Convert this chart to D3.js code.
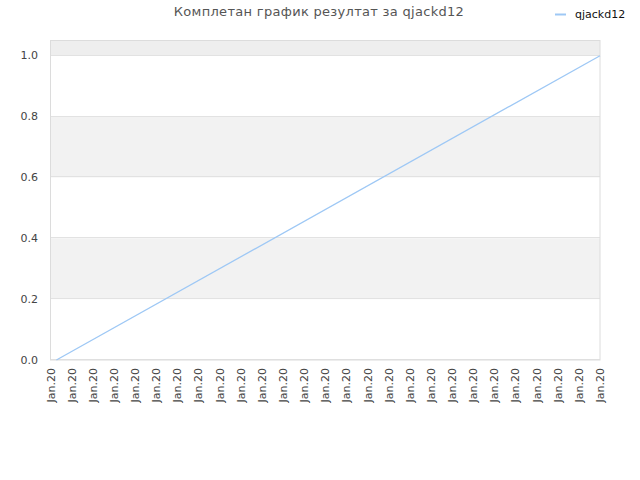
<!DOCTYPE html>
<html>
<head>
<meta charset="utf-8">
<script src="https://cdn.jsdelivr.net/npm/d3@7"></script>
<style>
  body { margin: 0; background: #fff; }
  svg { font-family: "DejaVu Sans", sans-serif; }
</style>
</head>
<body>
<div id="chart"></div>
<script>
// chart data
var title = "Комплетан график резултат за qjackd12";
var seriesName = "qjackd12";
var xLabels = ["Jan.20","Jan.20","Jan.20","Jan.20","Jan.20","Jan.20","Jan.20","Jan.20","Jan.20",
  "Jan.20","Jan.20","Jan.20","Jan.20","Jan.20","Jan.20","Jan.20","Jan.20","Jan.20",
  "Jan.20","Jan.20","Jan.20","Jan.20","Jan.20","Jan.20","Jan.20","Jan.20","Jan.20"];
var pointPos = [0.28, 26];   // position along the label axis
var pointVal = [0, 1];
var yTicks = [0, 0.2, 0.4, 0.6, 0.8, 1.0];

var width = 640, height = 480,
    margin = {top: 40.5, right: 40, bottom: 120, left: 50.5};

var svg = d3.select("#chart").append("svg")
    .attr("width", width)
    .attr("height", height);

var x = d3.scaleLinear().domain([0, xLabels.length - 1]).range([margin.left, width - margin.right]);
var y = d3.scaleLinear().domain([0, 1.05]).range([height - margin.bottom, margin.top]);

// alternating bands
var bandEdges = yTicks.concat([1.05]);
for (var i = 0; i < bandEdges.length - 1; i++){
	if (i % 2 == 0) continue;
	svg.append("rect")
		.attr("x", margin.left)
		.attr("width", width - margin.right - margin.left)
		.attr("y", y(bandEdges[i+1]))
		.attr("height", y(bandEdges[i]) - y(bandEdges[i+1]))
		.attr("fill", i == bandEdges.length - 2 ? "#eeeeee" : "#f2f2f2");
}

// grid lines
svg.selectAll("line.grid")
	.data(yTicks)
	.enter().append("line")
		.attr("class", "grid")
		.attr("x1", margin.left)
		.attr("x2", width - margin.right)
		.attr("y1", function(d) {return Math.round(y(d)) - 0.5})
		.attr("y2", function(d) {return Math.round(y(d)) - 0.5})
		.attr("stroke", "#e2e2e2");

// plot frame
svg.append("rect")
	.attr("x", margin.left)
	.attr("y", margin.top)
	.attr("width", width - margin.right - margin.left)
	.attr("height", height - margin.bottom - margin.top)
	.attr("fill", "none")
	.attr("stroke", "#dcdcdc");

// y labels
svg.selectAll("text.ylab")
	.data(yTicks)
	.enter().append("text")
		.attr("class", "ylab")
		.attr("x", 38)
		.attr("y", function(d) {return y(d) + 3.5})
		.attr("text-anchor", "end")
		.attr("font-size", 11)
		.attr("fill", "#444")
		.text(function(d) {return d.toFixed(1)});

// x labels
svg.selectAll("text.xlab")
	.data(xLabels)
	.enter().append("text")
		.attr("class", "xlab")
		.attr("text-anchor", "end")
		.attr("font-size", 11)
		.attr("fill", "#444")
		.attr("transform", function(d, i) {return "translate(" + (x(i) + 4) + "," + 368 + ") rotate(-90)"})
		.text(function(d) {return d});

// series line
var pts = pointPos.map(function(p, i) {return [p, pointVal[i]]});
svg.append("path")
	.datum(pts)
	.attr("fill", "none")
	.attr("stroke", "#9ec8f5")
	.attr("stroke-width", 1.3)
	.attr("d", d3.line().x(function(d) {return x(d[0])}).y(function(d) {return y(d[1])}));

// title
svg.append("text")
	.attr("x", 319)
	.attr("y", 16)
	.attr("text-anchor", "middle")
	.attr("font-size", 13)
	.attr("letter-spacing", 0.3)
	.attr("fill", "#555")
	.text(title);

// legend
svg.append("line")
	.attr("x1", 555).attr("x2", 566)
	.attr("y1", 14.5).attr("y2", 14.5)
	.attr("stroke", "#9ec8f5")
	.attr("stroke-width", 2);
svg.append("text")
	.attr("x", 575)
	.attr("y", 18)
	.attr("font-size", 11)
	.attr("fill", "#111")
	.text(seriesName);
</script>
</body>
</html>
